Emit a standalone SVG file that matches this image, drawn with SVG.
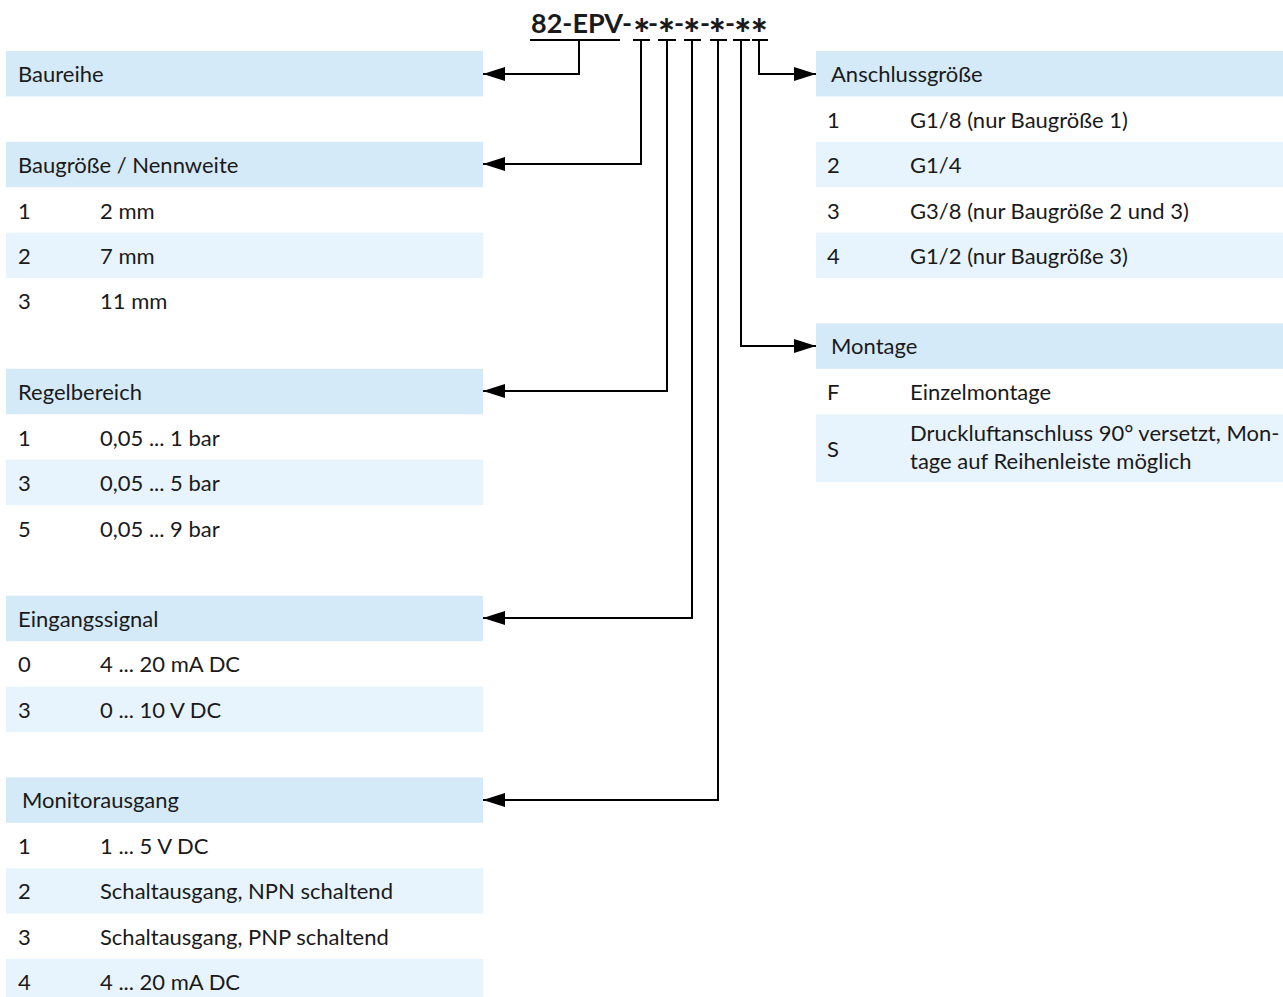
<svg xmlns="http://www.w3.org/2000/svg" width="1283" height="997" viewBox="0 0 1283 997">
<style>
.hd{fill:#d5eaf9}
.lt{fill:#e8f4fd}
.t{font-family:Lato,"Open Sans","Liberation Sans",sans-serif;font-size:22px;fill:#1a1a1a}
.ti{font-family:Lato,"Open Sans","Liberation Sans",sans-serif;font-size:27px;font-weight:bold;fill:#1a1a1a}
.ti .s{font-size:40px;font-weight:900}
.c{fill:none;stroke:#000;stroke-width:2}
</style>
<defs>
<marker id="ah" markerUnits="userSpaceOnUse" markerWidth="22" markerHeight="14" refX="22" refY="7" orient="auto">
<path d="M0,0 L22,7 L0,14 z" fill="#000"/>
</marker>
</defs>
<rect width="1283" height="997" fill="#fff"/>
<g id="title"><text class="ti" x="531" y="33">82-EPV<tspan x="627" text-anchor="middle">-</tspan><tspan class="s" x="641.7" y="49" text-anchor="middle">*</tspan><tspan x="653" y="33" text-anchor="middle">-</tspan><tspan class="s" x="666.5" y="49" text-anchor="middle">*</tspan><tspan x="679" y="33" text-anchor="middle">-</tspan><tspan class="s" x="691.7" y="49" text-anchor="middle">*</tspan><tspan x="705" y="33" text-anchor="middle">-</tspan><tspan class="s" x="717.3" y="49" text-anchor="middle">*</tspan><tspan x="730" y="33" text-anchor="middle">-</tspan><tspan class="s" x="742.7" y="49" text-anchor="middle">*</tspan><tspan class="s" x="759.3" y="49" text-anchor="middle">*</tspan></text></g>
<g id="baureihe">
<rect class="hd" x="6" y="51" width="477" height="45.4"/>
<text class="t" x="18" y="82">Baureihe</text>
</g>
<g id="baugroesse">
<rect class="hd" x="6" y="141.8" width="477" height="45.4"/>
<text class="t" x="18" y="173">Baugröße / Nennweite</text>
<rect class="lt" x="6" y="232.6" width="477" height="45.4"/>
<text class="t" x="18" y="219">1</text><text class="t" x="100" y="219">2 mm</text>
<text class="t" x="18" y="264">2</text><text class="t" x="100" y="264">7 mm</text>
<text class="t" x="18" y="309">3</text><text class="t" x="100" y="309">11 mm</text>
</g>
<g id="regelbereich">
<rect class="hd" x="6" y="368.8" width="477" height="45.4"/>
<text class="t" x="18" y="400">Regelbereich</text>
<rect class="lt" x="6" y="459.6" width="477" height="45.4"/>
<text class="t" x="18" y="446">1</text><text class="t" x="100" y="446">0,05 ... 1 bar</text>
<text class="t" x="18" y="491">3</text><text class="t" x="100" y="491">0,05 ... 5 bar</text>
<text class="t" x="18" y="537">5</text><text class="t" x="100" y="537">0,05 ... 9 bar</text>
</g>
<g id="eingangssignal">
<rect class="hd" x="6" y="595.8" width="477" height="45.4"/>
<text class="t" x="18" y="627">Eingangssignal</text>
<rect class="lt" x="6" y="686.6" width="477" height="45.4"/>
<text class="t" x="18" y="672">0</text><text class="t" x="100" y="672">4 ... 20 mA DC</text>
<text class="t" x="18" y="718">3</text><text class="t" x="100" y="718">0 ... 10 V DC</text>
</g>
<g id="monitorausgang">
<rect class="hd" x="6" y="777.4" width="477" height="45.4"/>
<text class="t" x="22" y="808">Monitorausgang</text>
<rect class="lt" x="6" y="868.2" width="477" height="45.4"/>
<rect class="lt" x="6" y="959" width="477" height="45.4"/>
<text class="t" x="18" y="854">1</text><text class="t" x="100" y="854">1 ... 5 V DC</text>
<text class="t" x="18" y="899">2</text><text class="t" x="100" y="899">Schaltausgang, NPN schaltend</text>
<text class="t" x="18" y="945">3</text><text class="t" x="100" y="945">Schaltausgang, PNP schaltend</text>
<text class="t" x="18" y="990">4</text><text class="t" x="100" y="990">4 ... 20 mA DC</text>
</g>
<g id="anschlussgroesse">
<rect class="hd" x="816" y="51" width="467" height="45.4"/>
<text class="t" x="831" y="82">Anschlussgröße</text>
<rect class="lt" x="816" y="141.8" width="467" height="45.4"/>
<rect class="lt" x="816" y="232.6" width="467" height="45.4"/>
<text class="t" x="827" y="128">1</text><text class="t" x="910" y="128">G1/8 (nur Baugröße 1)</text>
<text class="t" x="827" y="173">2</text><text class="t" x="910" y="173">G1/4</text>
<text class="t" x="827" y="219">3</text><text class="t" x="910" y="219">G3/8 (nur Baugröße 2 und 3)</text>
<text class="t" x="827" y="264">4</text><text class="t" x="910" y="264">G1/2 (nur Baugröße 3)</text>
</g>
<g id="montage">
<rect class="hd" x="816" y="323.4" width="467" height="45.4"/>
<text class="t" x="831" y="354">Montage</text>
<rect class="lt" x="816" y="414.2" width="467" height="68"/>
<text class="t" x="827" y="400">F</text><text class="t" x="910" y="400">Einzelmontage</text>
<text class="t" x="827" y="457">S</text>
<text class="t" x="910" y="441">Druckluftanschluss 90° versetzt, Mon-</text>
<text class="t" x="910" y="469">tage auf Reihenleiste möglich</text>
</g>
<g id="connectors">
<line class="c" x1="530" y1="40" x2="620" y2="40"/>
<line class="c" x1="633" y1="40" x2="650" y2="40"/>
<line class="c" x1="658" y1="40" x2="676" y2="40"/>
<line class="c" x1="684" y1="40" x2="701" y2="40"/>
<line class="c" x1="710" y1="40" x2="727" y2="40"/>
<line class="c" x1="733" y1="40" x2="750" y2="40"/>
<line class="c" x1="752" y1="40" x2="768" y2="40"/>
<path class="c" d="M579,40 V74 H483" marker-end="url(#ah)"/>
<path class="c" d="M641,40 V164 H483" marker-end="url(#ah)"/>
<path class="c" d="M667,40 V391 H483" marker-end="url(#ah)"/>
<path class="c" d="M692,40 V618 H483" marker-end="url(#ah)"/>
<path class="c" d="M718,40 V800 H483" marker-end="url(#ah)"/>
<path class="c" d="M741,40 V346 H816" marker-end="url(#ah)"/>
<path class="c" d="M759,40 V74 H816" marker-end="url(#ah)"/>
</g>
</svg>
